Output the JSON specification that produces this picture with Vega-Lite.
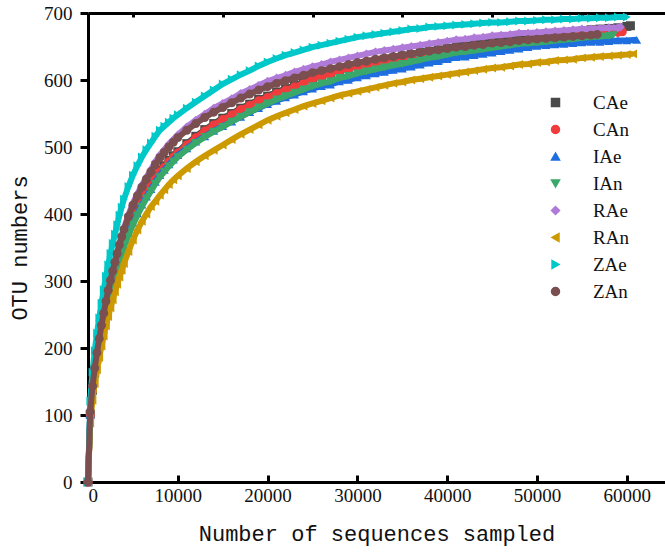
{
"$schema": "https://vega.github.io/schema/vega-lite/v6.json",
"width": 577, "height": 469,
"autosize": "none",
"padding": {"left": 88, "top": 13, "right": 0, "bottom": 72},
"background": "white",
"config": {"view": {"stroke": null}, "font": "Liberation Serif", "axis": {"grid": false}},
"data": {"values": [
{"n":0,"CAe":0,"CAn":0,"IAe":0,"IAn":0,"RAe":0,"RAn":0,"ZAe":0,"ZAn":0},
{"n":250,"CAe":101,"CAn":100,"IAe":101,"IAn":98,"RAe":106,"RAn":88,"ZAe":121,"ZAn":105},
{"n":500,"CAe":137,"CAn":136,"IAe":136,"IAn":133,"RAe":144,"RAn":122,"ZAe":164,"ZAn":143},
{"n":750,"CAe":163,"CAn":162,"IAe":161,"IAn":158,"RAe":171,"RAn":147,"ZAe":196,"ZAn":170},
{"n":1000,"CAe":185,"CAn":183,"IAe":182,"IAn":179,"RAe":194,"RAn":168,"ZAe":222,"ZAn":193},
{"n":1250,"CAe":205,"CAn":203,"IAe":202,"IAn":199,"RAe":215,"RAn":186,"ZAe":245,"ZAn":214},
{"n":1500,"CAe":225,"CAn":223,"IAe":221,"IAn":218,"RAe":235,"RAn":203,"ZAe":267,"ZAn":234},
{"n":1750,"CAe":242,"CAn":240,"IAe":237,"IAn":234,"RAe":253,"RAn":218,"ZAe":287,"ZAn":252},
{"n":2000,"CAe":259,"CAn":257,"IAe":254,"IAn":251,"RAe":271,"RAn":233,"ZAe":307,"ZAn":270},
{"n":2250,"CAe":275,"CAn":273,"IAe":269,"IAn":266,"RAe":288,"RAn":247,"ZAe":324,"ZAn":286},
{"n":2500,"CAe":289,"CAn":287,"IAe":283,"IAn":280,"RAe":303,"RAn":260,"ZAe":341,"ZAn":301},
{"n":2750,"CAe":302,"CAn":300,"IAe":296,"IAn":293,"RAe":317,"RAn":272,"ZAe":356,"ZAn":315},
{"n":3000,"CAe":315,"CAn":313,"IAe":308,"IAn":305,"RAe":330,"RAn":284,"ZAe":370,"ZAn":328},
{"n":3250,"CAe":327,"CAn":325,"IAe":320,"IAn":317,"RAe":343,"RAn":295,"ZAe":384,"ZAn":341},
{"n":3500,"CAe":340,"CAn":338,"IAe":332,"IAn":329,"RAe":356,"RAn":306,"ZAe":398,"ZAn":354},
{"n":3750,"CAe":351,"CAn":349,"IAe":343,"IAn":340,"RAe":368,"RAn":316,"ZAe":410,"ZAn":366},
{"n":4000,"CAe":362,"CAn":360,"IAe":354,"IAn":351,"RAe":379,"RAn":326,"ZAe":422,"ZAn":377},
{"n":4500,"CAe":380,"CAn":378,"IAe":371,"IAn":368,"RAe":399,"RAn":344,"ZAe":441,"ZAn":396},
{"n":5000,"CAe":396,"CAn":394,"IAe":387,"IAn":384,"RAe":416,"RAn":361,"ZAe":458,"ZAn":413},
{"n":5500,"CAe":410,"CAn":408,"IAe":401,"IAn":398,"RAe":430,"RAn":376,"ZAe":472,"ZAn":427},
{"n":6000,"CAe":422,"CAn":420,"IAe":414,"IAn":411,"RAe":443,"RAn":389,"ZAe":485,"ZAn":440},
{"n":6500,"CAe":434,"CAn":432,"IAe":426,"IAn":423,"RAe":455,"RAn":400,"ZAe":496,"ZAn":452},
{"n":7000,"CAe":444,"CAn":442,"IAe":437,"IAn":434,"RAe":466,"RAn":411,"ZAe":506,"ZAn":463},
{"n":7500,"CAe":455,"CAn":453,"IAe":448,"IAn":445,"RAe":478,"RAn":419,"ZAe":516,"ZAn":474},
{"n":8000,"CAe":465,"CAn":463,"IAe":458,"IAn":455,"RAe":488,"RAn":428,"ZAe":525,"ZAn":484},
{"n":8500,"CAe":472,"CAn":470,"IAe":466,"IAn":463,"RAe":496,"RAn":436,"ZAe":531,"ZAn":492},
{"n":9000,"CAe":480,"CAn":478,"IAe":474,"IAn":471,"RAe":504,"RAn":444,"ZAe":537,"ZAn":500},
{"n":9500,"CAe":487,"CAn":485,"IAe":481,"IAn":478,"RAe":511,"RAn":451,"ZAe":543,"ZAn":507},
{"n":10000,"CAe":493,"CAn":491,"IAe":488,"IAn":485,"RAe":518,"RAn":457,"ZAe":548,"ZAn":514},
{"n":11000,"CAe":505,"CAn":503,"IAe":498,"IAn":496,"RAe":530,"RAn":468,"ZAe":558,"ZAn":525},
{"n":12000,"CAe":516,"CAn":514,"IAe":508,"IAn":506,"RAe":540,"RAn":478,"ZAe":567,"ZAn":535},
{"n":13000,"CAe":526,"CAn":524,"IAe":516,"IAn":515,"RAe":549,"RAn":487,"ZAe":576,"ZAn":544},
{"n":14000,"CAe":535,"CAn":533,"IAe":524,"IAn":523,"RAe":558,"RAn":495,"ZAe":585,"ZAn":552},
{"n":15000,"CAe":543,"CAn":541,"IAe":531,"IAn":530,"RAe":565,"RAn":503,"ZAe":594,"ZAn":559},
{"n":16000,"CAe":550,"CAn":548,"IAe":538,"IAn":538,"RAe":572,"RAn":511,"ZAe":601,"ZAn":566},
{"n":17000,"CAe":558,"CAn":556,"IAe":545,"IAn":545,"RAe":580,"RAn":519,"ZAe":608,"ZAn":573},
{"n":18000,"CAe":564,"CAn":562,"IAe":552,"IAn":552,"RAe":586,"RAn":526,"ZAe":614,"ZAn":579},
{"n":19000,"CAe":571,"CAn":569,"IAe":558,"IAn":559,"RAe":592,"RAn":533,"ZAe":621,"ZAn":585},
{"n":20000,"CAe":576,"CAn":574,"IAe":564,"IAn":565,"RAe":598,"RAn":540,"ZAe":627,"ZAn":590},
{"n":21000,"CAe":582,"CAn":580,"IAe":569,"IAn":571,"RAe":603,"RAn":546,"ZAe":632,"ZAn":595},
{"n":22000,"CAe":587,"CAn":585,"IAe":574,"IAn":576,"RAe":607,"RAn":551,"ZAe":637,"ZAn":599},
{"n":23000,"CAe":592,"CAn":590,"IAe":578,"IAn":581,"RAe":612,"RAn":556,"ZAe":641,"ZAn":603},
{"n":24000,"CAe":597,"CAn":595,"IAe":583,"IAn":586,"RAe":616,"RAn":561,"ZAe":645,"ZAn":607},
{"n":25000,"CAe":603,"CAn":601,"IAe":587,"IAn":591,"RAe":620,"RAn":565,"ZAe":649,"ZAn":611},
{"n":26000,"CAe":607,"CAn":605,"IAe":591,"IAn":595,"RAe":623,"RAn":569,"ZAe":652,"ZAn":614},
{"n":27000,"CAe":611,"CAn":609,"IAe":593,"IAn":598,"RAe":627,"RAn":573,"ZAe":655,"ZAn":617},
{"n":28000,"CAe":615,"CAn":613,"IAe":598,"IAn":603,"RAe":630,"RAn":577,"ZAe":658,"ZAn":620},
{"n":29000,"CAe":619,"CAn":617,"IAe":600,"IAn":606,"RAe":633,"RAn":580,"ZAe":661,"ZAn":623},
{"n":30000,"CAe":622,"CAn":620,"IAe":604,"IAn":610,"RAe":636,"RAn":583,"ZAe":664,"ZAn":626},
{"n":31000,"CAe":625,"CAn":622,"IAe":607,"IAn":613,"RAe":639,"RAn":586,"ZAe":666,"ZAn":628},
{"n":32000,"CAe":628,"CAn":625,"IAe":610,"IAn":616,"RAe":642,"RAn":589,"ZAe":668,"ZAn":631},
{"n":33000,"CAe":631,"CAn":628,"IAe":612,"IAn":619,"RAe":644,"RAn":592,"ZAe":670,"ZAn":633},
{"n":34000,"CAe":633,"CAn":630,"IAe":615,"IAn":622,"RAe":646,"RAn":595,"ZAe":672,"ZAn":635},
{"n":35000,"CAe":636,"CAn":633,"IAe":617,"IAn":624,"RAe":648,"RAn":597,"ZAe":674,"ZAn":637},
{"n":36000,"CAe":638,"CAn":635,"IAe":620,"IAn":627,"RAe":650,"RAn":600,"ZAe":676,"ZAn":639},
{"n":37000,"CAe":641,"CAn":637,"IAe":623,"IAn":630,"RAe":652,"RAn":602,"ZAe":677,"ZAn":641},
{"n":38000,"CAe":643,"CAn":639,"IAe":626,"IAn":633,"RAe":654,"RAn":604,"ZAe":679,"ZAn":643},
{"n":39000,"CAe":645,"CAn":641,"IAe":628,"IAn":635,"RAe":656,"RAn":606,"ZAe":680,"ZAn":645},
{"n":40000,"CAe":647,"CAn":643,"IAe":631,"IAn":638,"RAe":658,"RAn":608,"ZAe":681,"ZAn":647},
{"n":41000,"CAe":650,"CAn":646,"IAe":634,"IAn":641,"RAe":660,"RAn":610,"ZAe":682,"ZAn":649},
{"n":42000,"CAe":651,"CAn":647,"IAe":635,"IAn":642,"RAe":661,"RAn":612,"ZAe":683,"ZAn":650},
{"n":43000,"CAe":653,"CAn":649,"IAe":637,"IAn":644,"RAe":663,"RAn":614,"ZAe":684,"ZAn":652},
{"n":44000,"CAe":655,"CAn":651,"IAe":639,"IAn":646,"RAe":664,"RAn":616,"ZAe":685,"ZAn":653},
{"n":45000,"CAe":657,"CAn":652,"IAe":641,"IAn":648,"RAe":666,"RAn":618,"ZAe":686,"ZAn":655},
{"n":46000,"CAe":659,"CAn":654,"IAe":643,"IAn":650,"RAe":667,"RAn":619,"ZAe":686,"ZAn":656},
{"n":47000,"CAe":660,"CAn":655,"IAe":645,"IAn":652,"RAe":668,"RAn":621,"ZAe":687,"ZAn":657},
{"n":48000,"CAe":662,"CAn":657,"IAe":647,"IAn":654,"RAe":670,"RAn":623,"ZAe":688,"ZAn":659},
{"n":49000,"CAe":664,"CAn":659,"IAe":649,"IAn":655,"RAe":670,"RAn":624,"ZAe":688,"ZAn":660},
{"n":50000,"CAe":666,"CAn":661,"IAe":651,"IAn":656,"RAe":671,"RAn":626,"ZAe":689,"ZAn":661},
{"n":51000,"CAe":667,"CAn":662,"IAe":652,"IAn":657,"RAe":672,"RAn":627,"ZAe":690,"ZAn":662},
{"n":52000,"CAe":669,"CAn":663,"IAe":653,"IAn":659,"RAe":673,"RAn":629,"ZAe":690,"ZAn":663},
{"n":53000,"CAe":670,"CAn":664,"IAe":654,"IAn":660,"RAe":674,"RAn":630,"ZAe":691,"ZAn":664},
{"n":54000,"CAe":672,"CAn":666,"IAe":655,"IAn":661,"RAe":675,"RAn":631,"ZAe":691,"ZAn":665},
{"n":55000,"CAe":673,"CAn":667,"IAe":656,"IAn":663,"RAe":676,"RAn":633,"ZAe":692,"ZAn":666},
{"n":56000,"CAe":675,"CAn":668,"IAe":657,"IAn":664,"RAe":676,"RAn":634,"ZAe":692,"ZAn":667},
{"n":56700,"ZAn":668},
{"n":57000,"CAe":676,"CAn":669,"IAe":657,"IAn":665,"RAe":677,"RAn":635,"ZAe":693},
{"n":58000,"CAe":677,"CAn":670,"IAe":658,"IAn":666,"RAe":678,"RAn":636,"ZAe":693},
{"n":58500,"IAn":667},
{"n":59000,"CAe":678,"CAn":671,"IAe":659,"RAe":678,"RAn":637,"ZAe":694},
{"n":59300,"RAe":679},
{"n":59500,"CAn":672},
{"n":60000,"CAe":680,"IAe":659,"RAn":638,"ZAe":694},
{"n":60400,"CAe":681},
{"n":60700,"RAn":639},
{"n":61100,"IAe":660}
]},
"transform": [
  {"fold": ["CAe","CAn","IAe","IAn","RAe","RAn","ZAe","ZAn"], "as": ["s","v"]},
  {"filter": "isValid(datum.v)"}
],
"layer": [
  {
    "encoding": {
      "x": {"field": "n", "type": "quantitative", "scale": {"domain": [0, 64250], "nice": false},
            "axis": {"values": [0,10000,20000,30000,40000,50000,60000], "format": "d",
                     "tickSize": -7, "tickWidth": 3, "tickColor": "black", "domainWidth": 3, "domainColor": "black",
                     "labelFont": "Liberation Serif", "labelFontSize": 19, "labelColor": "#111", "labelPadding": 11,
                     "title": "Number of sequences sampled", "titleFont": "Liberation Mono", "titleFontSize": 22,
                     "titleFontWeight": "normal", "titleColor": "#111", "titlePadding": 18}},
      "y": {"field": "v", "type": "quantitative", "scale": {"domain": [0, 700], "nice": false},
            "axis": {"values": [0,100,200,300,400,500,600,700],
                     "tickSize": 8, "tickWidth": 3, "tickColor": "black", "domainWidth": 3, "domainColor": "black",
                     "labelFont": "Liberation Serif", "labelFontSize": 19, "labelColor": "#111", "labelPadding": 8,
                     "title": "OTU numbers", "titleFont": "Liberation Mono", "titleFontSize": 22,
                     "titleFontWeight": "normal", "titleColor": "#111", "titlePadding": 12}},
      "color": {"field": "s", "type": "nominal",
                "scale": {"domain": ["CAe","CAn","IAe","IAn","RAe","RAn","ZAe","ZAn"],
                          "range": ["#4a4a4a","#f03c3c","#1f6ee0","#3aa86a","#b07ad8","#cc9a00","#00c8c8","#7b4f50"]},
                "legend": {"orient": "none", "legendX": 458, "legendY": 80, "title": null, "padding": 0,
                           "labelFont": "Liberation Serif", "labelFontSize": 19, "labelColor": "#111",
                           "symbolSize": 64, "rowPadding": 7, "labelOffset": 28, "symbolOpacity": 1}},
      "shape": {"field": "s", "type": "nominal",
                "scale": {"domain": ["CAe","CAn","IAe","IAn","RAe","RAn","ZAe","ZAn"],
                          "range": ["square","circle","triangle-up","triangle-down","diamond","triangle-left","triangle-right","circle"]}}
    },
    "layer": [
      {"transform": [{"filter": "datum.s === 'CAe'"}], "mark": {"type": "line", "strokeWidth": 6, "point": {"filled": true, "size": 80, "opacity": 1}}},
      {"transform": [{"filter": "datum.s === 'CAn'"}], "mark": {"type": "line", "strokeWidth": 6, "point": {"filled": true, "size": 80, "opacity": 1}}},
      {"transform": [{"filter": "datum.s === 'IAe'"}], "mark": {"type": "line", "strokeWidth": 6, "point": {"filled": true, "size": 80, "opacity": 1}}},
      {"transform": [{"filter": "datum.s === 'IAn'"}], "mark": {"type": "line", "strokeWidth": 6, "point": {"filled": true, "size": 80, "opacity": 1}}},
      {"transform": [{"filter": "datum.s === 'RAe'"}], "mark": {"type": "line", "strokeWidth": 6, "point": {"filled": true, "size": 80, "opacity": 1}}},
      {"transform": [{"filter": "datum.s === 'RAn'"}], "mark": {"type": "line", "strokeWidth": 6, "point": {"filled": true, "size": 80, "opacity": 1}}},
      {"transform": [{"filter": "datum.s === 'ZAe'"}], "mark": {"type": "line", "strokeWidth": 6, "point": {"filled": true, "size": 80, "opacity": 1}}},
      {"transform": [{"filter": "datum.s === 'ZAn'"}], "mark": {"type": "line", "strokeWidth": 6, "point": {"filled": true, "size": 80, "opacity": 1}}}
    ]
  },
  {
    "mark": {"type": "point", "opacity": 0},
    "encoding": {
      "x": {"field": "n", "type": "quantitative", "scale": {"domain": [0, 64250], "nice": false},
            "axis": {"values": [5000,15000,25000,35000,45000,55000], "labels": false, "domain": false,
                     "tickSize": -4, "tickWidth": 3, "tickColor": "black", "title": null}}
    }
  },
  {
    "mark": {"type": "point", "opacity": 0},
    "encoding": {
      "x": {"field": "n", "type": "quantitative", "scale": {"domain": [0, 64250], "nice": false},
            "axis": {"orient": "top", "ticks": false, "labels": false, "domainWidth": 3, "domainColor": "black", "title": null}}
    }
  }
],
"resolve": {"axis": {"x": "independent"}}
}
